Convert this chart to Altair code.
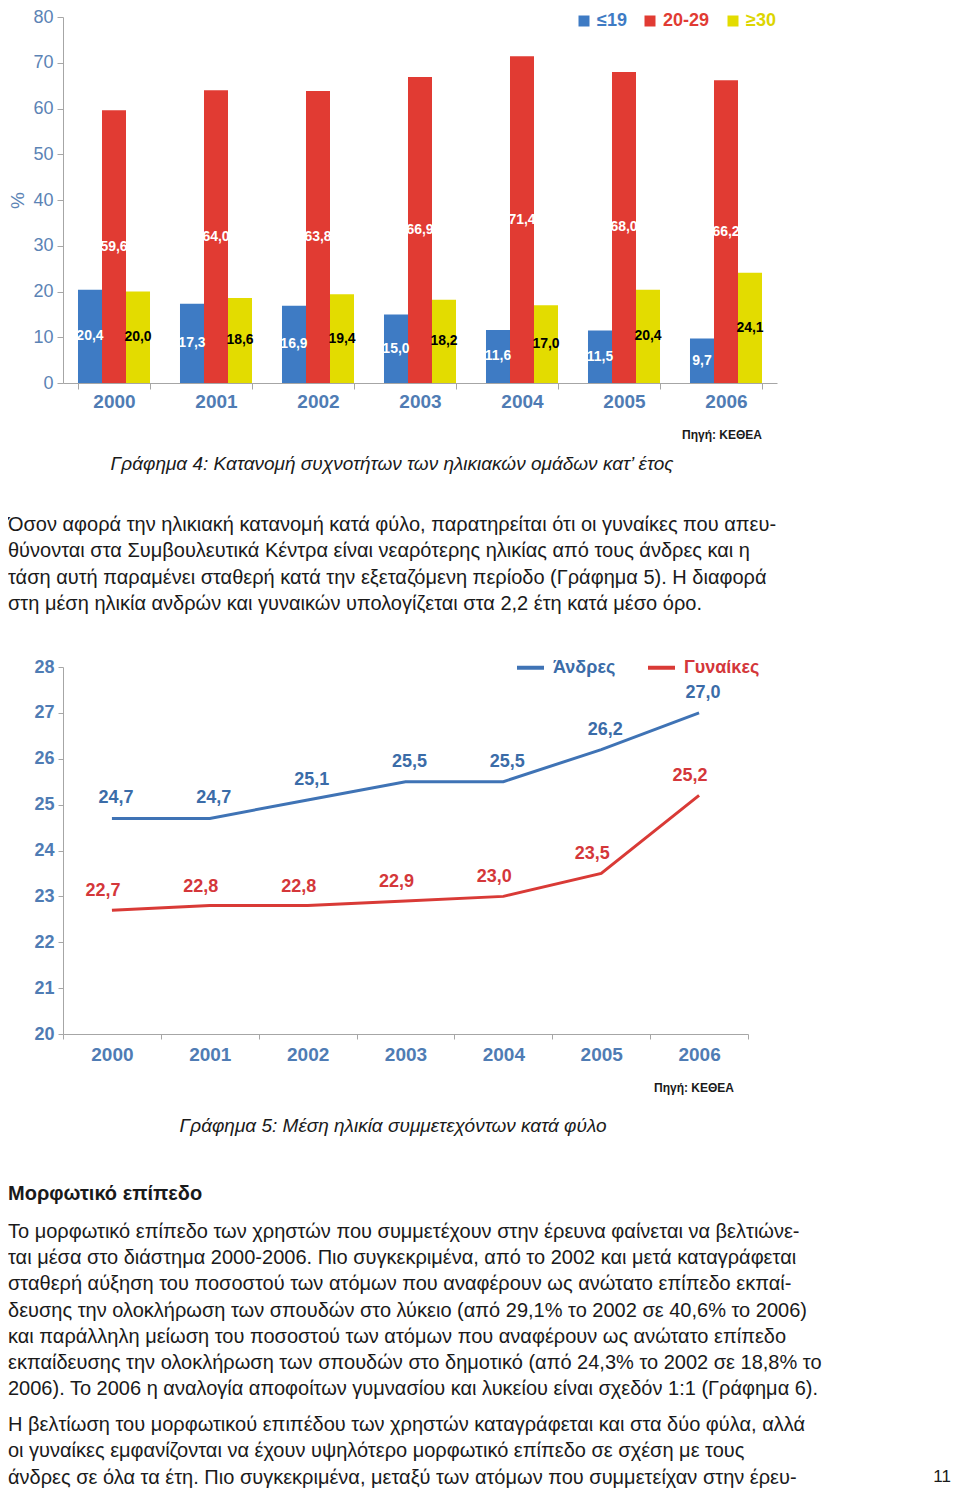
import altair as alt
import pandas as pd

# ---------------- data ----------------
years = ["2000", "2001", "2002", "2003", "2004", "2005", "2006"]
age_groups = ["≤19", "20-29", "≥30"]
le19 = [20.4, 17.3, 16.9, 15.0, 11.6, 11.5, 9.7]
g20_29 = [59.6, 64.0, 63.8, 66.9, 71.4, 68.0, 66.2]
ge30 = [20.0, 18.6, 19.4, 18.2, 17.0, 20.4, 24.1]
y_ticks_bar = [0, 10, 20, 30, 40, 50, 60, 70, 80]

sexes = ["Άνδρες", "Γυναίκες"]
men = [24.7, 24.7, 25.1, 25.5, 25.5, 26.2, 27.0]
women = [22.7, 22.8, 22.8, 22.9, 23.0, 23.5, 25.2]
y_ticks_line = [20, 21, 22, 23, 24, 25, 26, 27, 28]

fig4_source = "Πηγή: ΚΕΘΕΑ"
fig4_caption = "Γράφημα 4: Κατανομή συχνοτήτων των ηλικιακών ομάδων κατ’ έτος"
para1 = [
    "Όσον αφορά την ηλικιακή κατανομή κατά φύλο, παρατηρείται ότι οι γυναίκες που απευ-",
    "θύνονται στα Συμβουλευτικά Κέντρα είναι νεαρότερης ηλικίας από τους άνδρες  και η",
    "τάση αυτή παραμένει σταθερή κατά την εξεταζόμενη περίοδο (Γράφημα 5). Η διαφορά",
    "στη μέση ηλικία ανδρών και γυναικών υπολογίζεται στα 2,2 έτη κατά μέσο όρο.",
]
fig5_source = "Πηγή: ΚΕΘΕΑ"
fig5_caption = "Γράφημα 5: Μέση ηλικία συμμετεχόντων κατά φύλο"
heading = "Μορφωτικό επίπεδο"
para2 = [
    "Το μορφωτικό επίπεδο των χρηστών που συμμετέχουν στην έρευνα φαίνεται να βελτιώνε-",
    "ται μέσα στο διάστημα 2000-2006. Πιο συγκεκριμένα, από το 2002 και μετά καταγράφεται",
    "σταθερή αύξηση του ποσοστού των ατόμων που αναφέρουν ως ανώτατο επίπεδο εκπαί-",
    "δευσης την ολοκλήρωση των σπουδών στο λύκειο (από 29,1% το 2002 σε 40,6% το 2006)",
    "και παράλληλη μείωση του ποσοστού των ατόμων που αναφέρουν ως ανώτατο επίπεδο",
    "εκπαίδευσης την ολοκλήρωση των σπουδών στο δημοτικό (από 24,3% το 2002 σε 18,8% το",
    "2006). Το 2006 η αναλογία αποφοίτων γυμνασίου και λυκείου είναι σχεδόν 1:1 (Γράφημα 6).",
]
para3 = [
    "Η βελτίωση του μορφωτικού επιπέδου των χρηστών καταγράφεται και στα δύο φύλα, αλλά",
    "οι γυναίκες εμφανίζονται να έχουν υψηλότερο μορφωτικό επίπεδο σε σχέση με τους",
    "άνδρες σε όλα τα έτη. Πιο συγκεκριμένα, μεταξύ των ατόμων που συμμετείχαν στην έρευ-",
]
page_no = "11"

# ---------------- styles ----------------
FONT = "Liberation Sans"
BAR_COLORS = ["#3e7bc4", "#e13b33", "#e3dc00"]
LEGEND_TXT = ["#3e7bc4", "#e13b33", "#dcd500"]
LINE_COLORS = ["#3f73b5", "#d93a36"]
LBL_COLORS = ["#3b6ca8", "#d4373a"]
AX_BLUE = "#4f7cb4"
AX_BLUE_LIGHT = "#5b83b5"
GREY = "#a6a6a6"
TEXT = "#1a1a1a"


def fmt(v):
    return f"{v:.1f}".replace(".", ",")


# ---------------- bar chart ----------------
rows = []
for i, yr in enumerate(years):
    for g, series in zip(age_groups, [le19, g20_29, ge30]):
        rows.append({"year": yr, "group": g, "value": series[i], "label": fmt(series[i])})
bar_df = pd.DataFrame(rows)

x_bar = alt.X(
    "year:N",
    sort=years,
    scale=alt.Scale(paddingInner=0.294, paddingOuter=0.147),
    axis=alt.Axis(
        title=None, labelAngle=0, labelFont=FONT, labelFontSize=19, labelFontWeight="bold",
        labelColor=AX_BLUE, labelPadding=3, tickBand="extent", tickSize=6, tickColor=GREY,
        domainColor=GREY, grid=False,
    ),
)
y_axis_bar = alt.Axis(
    values=y_ticks_bar, grid=False, title="%", titleFont=FONT, titleFontSize=19,
    titleFontWeight="normal", titleColor=AX_BLUE_LIGHT, titlePadding=5,
    labelFont=FONT, labelFontSize=18, labelColor=AX_BLUE_LIGHT, labelPadding=4,
    tickSize=6, tickColor=GREY, domainColor=GREY,
)
x_off = alt.XOffset("group:N", sort=age_groups, scale=alt.Scale(paddingInner=0, paddingOuter=0))

bars = alt.Chart(bar_df).mark_bar().encode(
    x=x_bar,
    xOffset=x_off,
    y=alt.Y("value:Q", scale=alt.Scale(domain=[0, 80]), axis=y_axis_bar),
    color=alt.Color(
        "group:N",
        sort=age_groups,
        scale=alt.Scale(domain=age_groups, range=BAR_COLORS),
        legend=alt.Legend(
            title=None, orient="none", legendX=512, legendY=-5, direction="horizontal",
            symbolType="square", symbolSize=121, symbolStrokeWidth=0, symbolOpacity=1,
            labelFont=FONT, labelFontSize=18, labelFontWeight="bold", labelOffset=4,
            columnPadding=14, padding=0,
            labelColor=alt.ExprRef(
                f"datum.index === 0 ? '{LEGEND_TXT[0]}' : datum.index === 1 ? '{LEGEND_TXT[1]}' : '{LEGEND_TXT[2]}'"
            ),
        ),
    ),
)

bar_labels = alt.Chart(bar_df).transform_calculate(mid="datum.value / 2").mark_text(
    font=FONT, fontSize=14, fontWeight="bold", baseline="middle", align="center"
).encode(
    x=alt.X("year:N", sort=years),
    xOffset=x_off,
    y=alt.Y("mid:Q", axis=y_axis_bar),
    text="label:N",
    color=alt.condition(alt.datum.group == "≥30", alt.value("#000000"), alt.value("#ffffff")),
)

one = pd.DataFrame({"n": [0]})


def txt(content, x, y, **kw):
    return alt.Chart(one).mark_text(**kw).encode(
        x=alt.value(x), y=alt.value(y), text=alt.value(content)
    )


top_texts = [
    txt(fig4_source, 699, 418, align="right", baseline="middle", font=FONT, fontSize=12,
        fontWeight="bold", color=TEXT),
    txt(fig4_caption, 329, 447, align="center", baseline="middle", font=FONT, fontSize=19,
        fontStyle="italic", color=TEXT),
    txt(para1, -55, 514, align="left", baseline="alphabetic", font=FONT, fontSize=20,
        lineHeight=26.3, color=TEXT),
]

top = alt.layer(bars, bar_labels, *top_texts).properties(width=714, height=366)

# ---------------- line chart ----------------
lrows = []
for s, series in zip(sexes, [men, women]):
    for i, yr in enumerate(years):
        lrows.append({"year": yr, "sex": s, "age": series[i], "label": fmt(series[i])})
line_df = pd.DataFrame(lrows)

x_line = alt.X(
    "year:N",
    sort=years,
    bandPosition=0.5,
    scale=alt.Scale(type="band", paddingInner=0, paddingOuter=0),
    axis=alt.Axis(
        title=None, labelAngle=0, labelFont=FONT, labelFontSize=19, labelFontWeight="bold",
        labelColor=AX_BLUE, labelPadding=6, tickBand="extent", tickSize=5, tickColor=GREY,
        domainColor=GREY, grid=False,
    ),
)
y_line = alt.Y(
    "age:Q",
    scale=alt.Scale(domain=[20, 28]),
    axis=alt.Axis(
        values=y_ticks_line, grid=False, title=None, labelFont=FONT, labelFontSize=18,
        labelFontWeight="bold", labelColor=AX_BLUE, labelPadding=4, tickSize=5,
        tickColor=GREY, domainColor=GREY,
    ),
)

lines = alt.Chart(line_df).mark_line(strokeWidth=3).encode(
    x=x_line,
    y=y_line,
    color=alt.Color(
        "sex:N",
        sort=sexes,
        scale=alt.Scale(domain=sexes, range=LINE_COLORS),
        legend=alt.Legend(
            title=None, orient="none", legendX=452, legendY=-15, direction="horizontal",
            symbolType="stroke", symbolSize=729, symbolStrokeWidth=4,
            labelFont=FONT, labelFontSize=18, labelFontWeight="bold", labelOffset=7,
            columnPadding=24, padding=0,
            labelColor=alt.ExprRef(
                f"datum.index === 0 ? '{LBL_COLORS[0]}' : '{LBL_COLORS[1]}'"
            ),
        ),
    ),
)

men_labels = alt.Chart(line_df).transform_filter(alt.datum.sex == sexes[0]).mark_text(
    font=FONT, fontSize=18, fontWeight="bold", dx=4, dy=-20, baseline="middle",
    color=LBL_COLORS[0],
).encode(x=x_line, y=y_line, text="label:N")

women_labels = alt.Chart(line_df).transform_filter(alt.datum.sex == sexes[1]).mark_text(
    font=FONT, fontSize=18, fontWeight="bold", dx=-9, dy=-19, baseline="middle",
    color=LBL_COLORS[1],
).encode(x=x_line, y=y_line, text="label:N")

bottom_texts = [
    txt(fig5_source, 671, 421, align="right", baseline="middle", font=FONT, fontSize=12,
        fontWeight="bold", color=TEXT),
    txt(fig5_caption, 330, 459, align="center", baseline="middle", font=FONT, fontSize=19,
        fontStyle="italic", color=TEXT),
    txt(heading, -55, 527, align="left", baseline="middle", font=FONT, fontSize=20,
        fontWeight="bold", color=TEXT),
    txt(para2, -55, 571, align="left", baseline="alphabetic", font=FONT, fontSize=20,
        lineHeight=26.2, color=TEXT),
    txt(para3, -55, 764, align="left", baseline="alphabetic", font=FONT, fontSize=20,
        lineHeight=26.3, color=TEXT),
    txt(page_no, 888, 810, align="right", baseline="middle", font=FONT, fontSize=17,
        color=TEXT),
]

bottom = alt.layer(lines, men_labels, women_labels, *bottom_texts).properties(width=685, height=367)

chart = (
    alt.vconcat(top, bottom, spacing=284, bounds="flush")
    .resolve_scale(color="independent")
    .properties(padding=0)
    .configure_view(stroke=None)
)

chart.save("out.html", embed_options={"renderer": "svg", "actions": False})
